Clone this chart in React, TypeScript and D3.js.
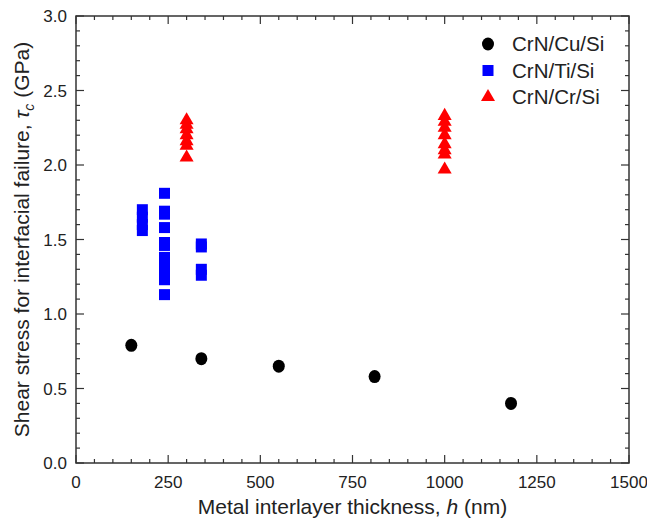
import React, { useEffect, useRef } from "react";
import * as d3 from "d3";

// CrN/Cu/Si
const cuThickness = [150, 340, 550, 810, 1180];
const cuStress = [0.79, 0.7, 0.65, 0.58, 0.4];

// CrN/Ti/Si
const tiThickness = [180, 180, 180, 180, 240, 240, 240, 240, 240, 240, 240, 240, 240, 240, 240, 340, 340, 340, 340];
const tiStress = [1.56, 1.6, 1.65, 1.7, 1.81, 1.69, 1.67, 1.58, 1.48, 1.46, 1.38, 1.32, 1.28, 1.23, 1.13, 1.47, 1.45, 1.3, 1.26];

// CrN/Cr/Si
const crThickness = [300, 300, 300, 300, 300, 300, 300, 1000, 1000, 1000, 1000, 1000, 1000, 1000, 1000];
const crStress = [2.05, 2.13, 2.16, 2.2, 2.24, 2.27, 2.3, 1.97, 2.07, 2.1, 2.14, 2.2, 2.25, 2.29, 2.33];

const xTicks = [0, 250, 500, 750, 1000, 1250, 1500];
const yTicks = [0, 0.5, 1, 1.5, 2, 2.5, 3];
const legendLabels = ["CrN/Cu/Si", "CrN/Ti/Si", "CrN/Cr/Si"];

const App = () => {
  const svgRef = useRef(null);

  useEffect(() => {
    const width = 647;
    const height = 521;
    const left = 76, right = 629, top = 16, bottom = 463;
    const font = "'Liberation Sans', Arial, sans-serif";

    const svg = d3.select(svgRef.current);
    svg.selectAll("*").remove();
    svg.attr("width", width).attr("height", height);

    const x = d3.scaleLinear().domain([0, 1500]).range([left, right]);
    const y = d3.scaleLinear().domain([0, 3]).range([bottom, top]);

    const g = svg.append("g");

    // ticks sur les 4 côtés, vers l'intérieur
    const xMinor = d3.range(0, 1501, 50);
    const yMinor = d3.range(0, 31).map(d => d / 10);
    const tickColor = "#333";

    xMinor.forEach(v => {
      const major = v % 250 === 0;
      const len = major ? 8 : 4;
      g.append("line").attr("x1", x(v)).attr("x2", x(v))
        .attr("y1", bottom).attr("y2", bottom - len)
        .attr("stroke", tickColor).attr("stroke-width", 1.2);
      g.append("line").attr("x1", x(v)).attr("x2", x(v))
        .attr("y1", top).attr("y2", top + len)
        .attr("stroke", tickColor).attr("stroke-width", 1.2);
    });
    yMinor.forEach(v => {
      const major = Math.round(v * 10) % 5 === 0;
      const len = major ? 8 : 4;
      g.append("line").attr("y1", y(v)).attr("y2", y(v))
        .attr("x1", left).attr("x2", left + len)
        .attr("stroke", tickColor).attr("stroke-width", 1.2);
      g.append("line").attr("y1", y(v)).attr("y2", y(v))
        .attr("x1", right).attr("x2", right - len)
        .attr("stroke", tickColor).attr("stroke-width", 1.2);
    });

    // cadre
    g.append("rect")
      .attr("x", left).attr("y", top)
      .attr("width", right - left).attr("height", bottom - top)
      .attr("fill", "none").attr("stroke", tickColor).attr("stroke-width", 1.5);

    // labels des ticks
    xTicks.forEach(v => {
      g.append("text")
        .attr("x", x(v)).attr("y", bottom + 25)
        .attr("text-anchor", "middle")
        .attr("font-family", font).attr("font-size", "17px").attr("fill", "#222")
        .text(v);
    });
    yTicks.forEach(v => {
      g.append("text")
        .attr("x", left - 9).attr("y", y(v) + 6)
        .attr("text-anchor", "end")
        .attr("font-family", font).attr("font-size", "17px").attr("fill", "#222")
        .text(d3.format(".1f")(v));
    });

    // titres des axes
    const xt = g.append("text")
      .attr("x", (left + right) / 2).attr("y", 514)
      .attr("text-anchor", "middle")
      .attr("font-family", font).attr("font-size", "21px").attr("fill", "#222");
    xt.append("tspan").text("Metal interlayer thickness, ");
    xt.append("tspan").attr("font-style", "italic").text("h");
    xt.append("tspan").text(" (nm)");

    const yt = g.append("text")
      .attr("transform", `translate(29, ${(top + bottom) / 2}) rotate(-90)`)
      .attr("text-anchor", "middle")
      .attr("font-family", font).attr("font-size", "21px").attr("fill", "#222");
    yt.append("tspan").text("Shear stress for interfacial failure, ");
    yt.append("tspan").attr("font-style", "italic").text("τ");
    yt.append("tspan").attr("font-style", "italic").attr("font-size", "14px").attr("dy", 5).text("c");
    yt.append("tspan").attr("dy", -5).text(" (GPa)");

    const square = d3.symbol().type(d3.symbolSquare).size(121);
    const triangle = d3.symbol().type(d3.symbolTriangle).size(85);

    // points
    g.selectAll(".cu").data(cuThickness).enter().append("ellipse")
      .attr("cx", d => x(d)).attr("cy", (d, i) => y(cuStress[i]))
      .attr("rx", 6).attr("ry", 6.5).attr("fill", "#000");

    g.selectAll(".ti").data(tiThickness).enter().append("path")
      .attr("d", square)
      .attr("transform", (d, i) => `translate(${x(d)}, ${y(tiStress[i])})`)
      .attr("fill", "#0000ff");

    g.selectAll(".cr").data(crThickness).enter().append("path")
      .attr("d", triangle)
      .attr("transform", (d, i) => `translate(${x(d)}, ${y(crStress[i])})`)
      .attr("fill", "#ff0000");

    // légende
    const lx = 488, ly = 44, step = 26.5;
    legendLabels.forEach((label, i) => {
      const cy = ly + i * step;
      if (i === 0) {
        g.append("ellipse").attr("cx", lx).attr("cy", cy).attr("rx", 6).attr("ry", 6.5).attr("fill", "#000");
      } else if (i === 1) {
        g.append("path").attr("d", square).attr("transform", `translate(${lx}, ${cy})`).attr("fill", "#0000ff");
      } else {
        g.append("path").attr("d", triangle).attr("transform", `translate(${lx}, ${cy})`).attr("fill", "#ff0000");
      }
      g.append("text")
        .attr("x", 512).attr("y", cy + 7)
        .attr("font-family", font).attr("font-size", "20.5px").attr("fill", "#222")
        .text(label);
    });
  }, []);

  return <svg ref={svgRef} style={{ position: "absolute", left: 0, top: 0 }}></svg>;
};

export default App;
